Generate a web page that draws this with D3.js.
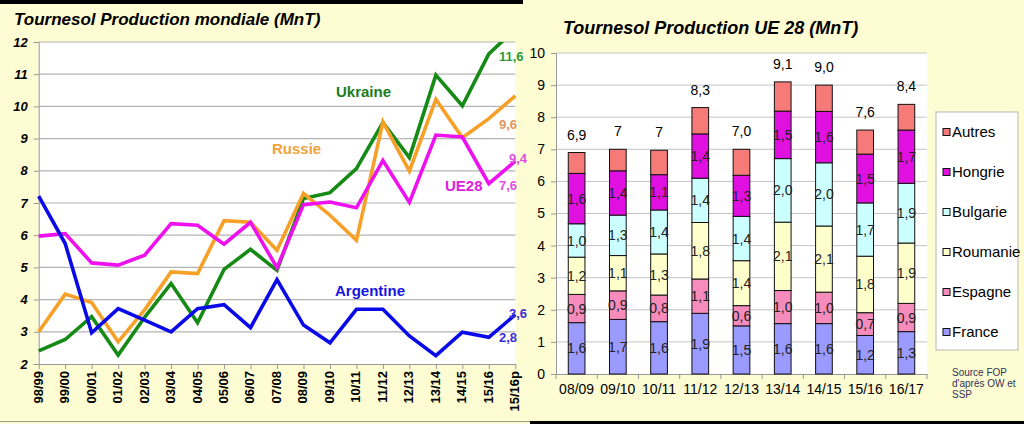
<!DOCTYPE html>
<html><head><meta charset="utf-8">
<script src="https://cdn.jsdelivr.net/npm/d3@7"></script>
<style>
html,body{margin:0;padding:0;background:#fefcd2;}
svg{display:block;font-family:"Liberation Sans",Arial,sans-serif;}
</style></head>
<body>
<svg id="c" width="1024" height="424"></svg>
<script>
// ---------- World production (left) ----------
const seasons = ["98/99","99/00","00/01","01/02","02/03","03/04","04/05","05/06","06/07","07/08","08/09","09/10","10/11","11/12","12/13","13/14","14/15","15/16","15/16p"];
const ukraine   = [2.41,2.76,3.47,2.28,3.45,4.50,3.28,4.94,5.56,4.91,7.14,7.32,8.07,9.50,8.41,10.97,10.02,11.63,12.4];
const russie    = [3.00,4.17,3.91,2.69,3.68,4.86,4.81,6.45,6.40,5.53,7.30,6.62,5.84,9.52,7.99,10.22,9.03,9.62,10.33];
const ue28      = [5.97,6.05,5.14,5.07,5.38,6.36,6.31,5.72,6.40,4.99,6.95,7.03,6.85,8.32,7.02,9.11,9.05,7.60,8.30];
const argentine = [7.21,5.74,2.97,3.72,3.36,3.00,3.72,3.84,3.13,4.62,3.21,2.66,3.70,3.70,2.87,2.26,2.99,2.83,3.53];
const leftTicks = [2,3,4,5,6,7,8,9,10,11,12];

// ---------- EU28 production (right) ----------
const campagnes = ["08/09","09/10","10/11","11/12","12/13","13/14","14/15","15/16","16/17"];
const france   = [1.60,1.70,1.63,1.89,1.50,1.57,1.57,1.20,1.32];
const espagne  = [0.88,0.89,0.83,1.07,0.63,1.03,0.98,0.71,0.88];
const roumanie = [1.16,1.10,1.28,1.76,1.40,2.13,2.06,1.76,1.88];
const bulgarie = [1.04,1.26,1.37,1.38,1.38,1.98,1.97,1.66,1.86];
const hongrie  = [1.57,1.38,1.10,1.38,1.28,1.48,1.60,1.52,1.66];
const autres   = [0.65,0.67,0.76,0.82,0.81,0.91,0.82,0.75,0.80];
const totalLabels = ["6,9","7","7","8,3","7,0","9,1","9,0","7,6","8,4"];
const rightTicks = [0,1,2,3,4,5,6,7,8,9,10];

const svg = d3.select("#c");
const fr = d3.format(".1f");
const comma = v => fr(v).replace(".", ",");

// background & borders
svg.append("rect").attr("x",0).attr("y",0).attr("width",1024).attr("height",424).attr("fill","#fefcd2");
svg.append("rect").attr("x",0).attr("y",0).attr("width",523).attr("height",4).attr("fill","#000");
svg.append("rect").attr("x",0).attr("y",421).attr("width",530).attr("height",1).attr("fill","#9a9a8a");
svg.append("rect").attr("x",530).attr("y",421).attr("width",494).attr("height",3).attr("fill","#000");

// ===== LEFT =====
const xL = d3.scalePoint().domain(seasons).range([38.7, 515.3]);
const yL = d3.scaleLinear().domain([2,12]).range([364, 42]);
svg.append("rect").attr("x",38.7).attr("y",42).attr("width",515.3-38.7).attr("height",322).attr("fill","#fff");
svg.append("g").selectAll("line").data(leftTicks.slice(1)).join("line")
  .attr("x1",38.7).attr("x2",515.3).attr("y1",d=>yL(d)).attr("y2",d=>yL(d))
  .attr("stroke","#b4b4b4").attr("stroke-width",1.2);

const gyL = svg.append("g").attr("transform","translate(38.7,0)")
  .call(d3.axisLeft(yL).tickValues(leftTicks).tickSize(5).tickPadding(6));
gyL.select(".domain").attr("stroke","#999");
gyL.selectAll(".tick line").attr("stroke","#999");
gyL.selectAll("text").attr("font-size",13).attr("font-weight","bold").attr("font-style","italic").attr("fill","#000");

const gxL = svg.append("g").attr("transform","translate(0,364)")
  .call(d3.axisBottom(xL).tickSize(5).tickSizeOuter(0));
gxL.select(".domain").attr("stroke","#999");
gxL.selectAll(".tick line").attr("stroke","#999");
gxL.selectAll("text").attr("font-size",13).attr("font-weight","bold").attr("fill","#000")
  .attr("transform","rotate(-90)").attr("text-anchor","end").attr("dx","-7").attr("y",0).attr("x",0)
  .style("dominant-baseline","middle").attr("dy","0");

svg.append("clipPath").attr("id","clipL").append("rect").attr("x",30).attr("y",42).attr("width",500).attr("height",330);
const line = d3.line().x((d,i)=>xL(seasons[i])).y(d=>yL(d));
const series = [
  {v:ukraine, c:"#158a15"},
  {v:russie, c:"#f7a028"},
  {v:ue28, c:"#ee10ee"},
  {v:argentine, c:"#0a0ae8"}
];
const gl = svg.append("g").attr("clip-path","url(#clipL)");
series.forEach(s=>{
  gl.append("path").attr("d",line(s.v)).attr("fill","none").attr("stroke",s.c)
    .attr("stroke-width",3.6).attr("stroke-linejoin","miter");
});

const names = [
  {t:"Ukraine", x:336, y:92, c:"#1a7d1a"},
  {t:"Russie", x:272, y:149, c:"#f2a23a"},
  {t:"UE28", x:445, y:186, c:"#e020e0"},
  {t:"Argentine", x:335, y:291, c:"#1616e0"}
];
svg.append("g").selectAll("text").data(names).join("text")
  .attr("x",d=>d.x).attr("y",d=>d.y).attr("dy","0.36em").attr("fill",d=>d.c)
  .attr("font-size",15).attr("font-weight","bold").text(d=>d.t);

const last = seasons.length-1;
const vals = [
  {t:comma(ukraine[last-1]), x:499, y:56, c:"#2e9a3e"},
  {t:comma(russie[last-1]), x:499, y:124, c:"#e3955c"},
  {t:"9,4", x:509, y:158, c:"#e050e0"},
  {t:comma(ue28[last-1]), x:499, y:185, c:"#e050e0"},
  {t:"3,6", x:509, y:313, c:"#3c2ed6"},
  {t:comma(argentine[last-1]), x:499, y:337, c:"#3c2ed6"}
];
svg.append("g").selectAll("text").data(vals).join("text")
  .attr("x",d=>d.x).attr("y",d=>d.y).attr("dy","0.36em").attr("fill",d=>d.c)
  .attr("font-size",13).attr("font-weight","bold").text(d=>d.t);

svg.append("text").attr("x",14).attr("y",25).attr("font-size",17).attr("font-weight","bold")
  .attr("font-style","italic").attr("fill","#000").text("Tournesol Production mondiale (MnT)");

// ===== RIGHT =====
const xR = d3.scaleBand().domain(campagnes).range([556, 927]).paddingInner(0.595).paddingOuter(0.2975);
const yR = d3.scaleLinear().domain([0,10]).range([374, 53]);
svg.append("rect").attr("x",556).attr("y",53).attr("width",371).attr("height",321).attr("fill","#fff");
svg.append("g").selectAll("line").data(rightTicks.slice(1)).join("line")
  .attr("x1",556).attr("x2",927).attr("y1",d=>yR(d)).attr("y2",d=>yR(d))
  .attr("stroke","#c4c4c4").attr("stroke-width",1);

const gyR = svg.append("g").attr("transform","translate(556,0)")
  .call(d3.axisLeft(yR).tickValues(rightTicks).tickSize(5).tickPadding(6));
gyR.select(".domain").attr("stroke","#999");
gyR.selectAll(".tick line").attr("stroke","#999");
gyR.selectAll("text").attr("font-size",14).attr("fill","#000");

const gxR = svg.append("g").attr("transform","translate(0,374)")
  .call(d3.axisBottom(xR).tickSize(0).tickPadding(10).tickSizeOuter(0));
gxR.select(".domain").attr("stroke","#999");
gxR.selectAll("text").attr("font-size",14).attr("fill","#000");
const step = xR.step();
gxR.append("g").selectAll("line").data(d3.range(campagnes.length+1)).join("line")
  .attr("x1",i=>556+i*step).attr("x2",i=>556+i*step).attr("y1",0).attr("y2",5).attr("stroke","#999");

const keys = ["France","Espagne","Roumanie","Bulgarie","Hongrie","Autres"];
const colors = {France:"#9a9aff",Espagne:"#f58cbc",Roumanie:"#ffffcc",Bulgarie:"#ccffff",Hongrie:"#e010e0",Autres:"#f57a78"};
const table = campagnes.map((c,i)=>({c, France:france[i], Espagne:espagne[i], Roumanie:roumanie[i], Bulgarie:bulgarie[i], Hongrie:hongrie[i], Autres:autres[i]}));
const stacked = d3.stack().keys(keys)(table);

const gb = svg.append("g");
stacked.forEach(layer=>{
  gb.append("g").selectAll("rect").data(layer).join("rect")
    .attr("x",d=>xR(d.data.c)).attr("width",xR.bandwidth())
    .attr("y",d=>yR(d[1])).attr("height",d=>yR(d[0])-yR(d[1]))
    .attr("fill",colors[layer.key]).attr("stroke","#111").attr("stroke-width",1);
});
stacked.filter(l=>l.key!=="Autres").forEach(layer=>{
  gb.append("g").selectAll("text").data(layer).join("text")
    .attr("x",d=>xR(d.data.c)+xR.bandwidth()/2).attr("y",d=>(yR(d[0])+yR(d[1]))/2)
    .attr("dy","0.36em").attr("text-anchor","middle").attr("font-size",14).attr("fill","#222")
    .text(d=>comma(d[1]-d[0]));
});
const totals = stacked[stacked.length-1];
gb.append("g").selectAll("text").data(totals).join("text")
  .attr("x",d=>xR(d.data.c)+xR.bandwidth()/2).attr("y",d=>yR(d[1])-18)
  .attr("dy","0.36em").attr("text-anchor","middle").attr("font-size",14).attr("fill","#000")
  .text((d,i)=>totalLabels[i]);

svg.append("text").attr("x",563).attr("y",34).attr("font-size",18).attr("font-weight","bold")
  .attr("font-style","italic").attr("fill","#000").text("Tournesol Production UE 28 (MnT)");

// legend
const lg = svg.append("g");
lg.append("rect").attr("x",936).attr("y",112).attr("width",82).attr("height",238)
  .attr("fill","#fff").attr("stroke","#b8b8b0").attr("stroke-width",1);
const legKeys = keys.slice().reverse();
const li = lg.selectAll("g.it").data(legKeys).join("g").attr("class","it")
  .attr("transform",(d,i)=>`translate(943,${132+i*40})`);
li.append("rect").attr("x",0).attr("y",-3.5).attr("width",7).attr("height",7)
  .attr("fill",d=>colors[d]).attr("stroke","#111").attr("stroke-width",1);
li.append("text").attr("x",9).attr("y",0).attr("dy","0.36em").attr("font-size",15).attr("fill","#000").text(d=>d);

// source
const src = ["Source FOP","d'après OW et","SSP"];
svg.append("g").selectAll("text").data(src).join("text")
  .attr("x",952).attr("y",(d,i)=>376+i*11).attr("font-size",10).attr("fill","#333355").text(d=>d);
</script>
</body></html>
